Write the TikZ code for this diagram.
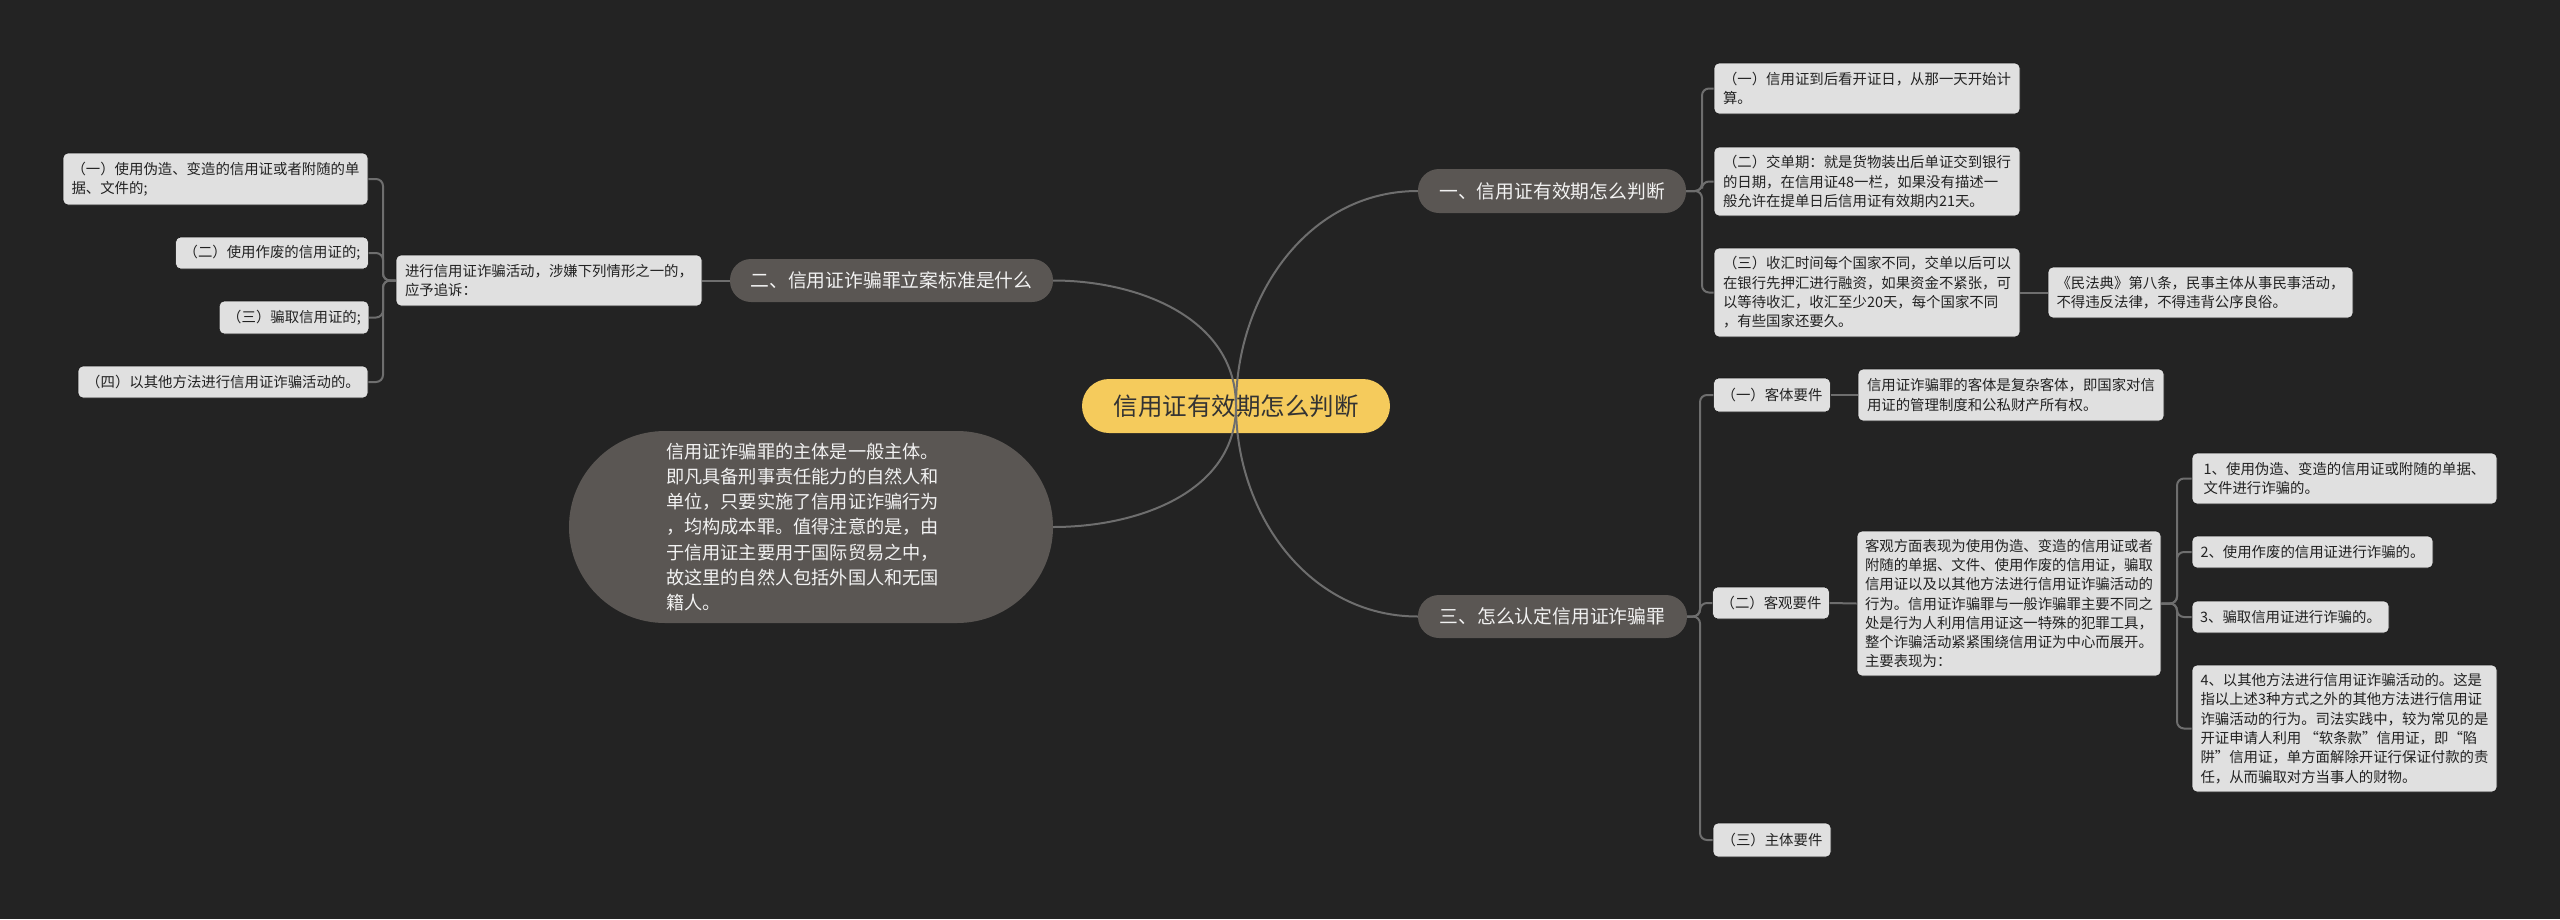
\documentclass[tikz,border=0pt]{standalone}
\usepackage{fontspec}
\setmainfont{Noto Sans CJK SC}
\usetikzlibrary{backgrounds}
\definecolor{bgc}{HTML}{232323}
\definecolor{leafc}{HTML}{E0E0E0}
\definecolor{leafb}{HTML}{151515}
\definecolor{leaft}{HTML}{222222}
\definecolor{topc}{HTML}{5A5653}
\definecolor{mainc}{HTML}{F5CB5C}
\definecolor{maint}{HTML}{333333}
\definecolor{connc}{HTML}{6E6E6E}
\begin{document}
\begin{tikzpicture}[x=1pt,y=-1pt,
  leaf/.style={fill=leafc, draw=leafb, line width=0.6pt, rounded corners=5pt, text=leaft,
    font=\fontsize{14.4}{19.3}\selectfont, align=left, inner xsep=8pt, inner ysep=5pt},
  topic/.style={fill=topc, rounded corners=21pt, text=white!95!black,
    font=\fontsize{18.8}{24}\selectfont, inner sep=0pt},
  conn/.style={draw=connc, line width=2pt},
  bracket/.style={conn, rounded corners=7pt}]
\useasboundingbox (0,0) rectangle (2560,919);
\fill[bgc] (0,0) rectangle (2560,919);

% central
\node[fill=mainc, rounded corners=27pt, text=maint, font=\fontsize{24.5}{30}\selectfont,
  minimum width=308pt, minimum height=54pt, inner sep=0pt] (c) at (1236,406) {信用证有效期怎么判断};

% level 1
\node[topic, minimum width=268pt, minimum height=44pt] (ta) at (1552,191) {一、信用证有效期怎么判断};
\node[topic, minimum width=323pt, minimum height=43pt] (tb) at (891.5,280.5) {二、信用证诈骗罪立案标准是什么};
\node[topic, minimum width=269pt, minimum height=43pt] (tc) at (1552.5,616.5) {三、怎么认定信用证诈骗罪};
\node[fill=topc, rounded corners=96pt, minimum width=484pt, minimum height=192pt, inner sep=0pt] (ov) at (811,527) {};
\node[text=white!95!black, font=\fontsize{18.2}{25.3}\selectfont, align=left, text width=290pt, inner sep=0pt] (ovt) at (811,527) {信用证诈骗罪的主体是一般主体。\\即凡具备刑事责任能力的自然人和\\单位，只要实施了信用证诈骗行为\\，均构成本罪。值得注意的是，由\\于信用证主要用于国际贸易之中，\\故这里的自然人包括外国人和无国\\籍人。};

% left group
\node[leaf, minimum width=306pt, minimum height=51pt] (bx) at (549,280.5) {进行信用证诈骗活动，涉嫌下列情形之一的，\\应予追诉：};
\node[leaf, minimum width=305pt, minimum height=52pt] (a1) at (215.5,179) {（一）使用伪造、变造的信用证或者附随的单\\据、文件的;};
\node[leaf, minimum width=192pt, minimum height=32pt] (a2) at (272,253) {（二）使用作废的信用证的;};
\node[leaf, minimum width=148pt, minimum height=33pt] (a3) at (294,317.5) {（三）骗取信用证的;};
\node[leaf, minimum width=290pt, minimum height=32pt] (a4) at (223,382) {（四）以其他方法进行信用证诈骗活动的。};

% right top group
\node[leaf, minimum width=306pt, minimum height=51pt] (b1) at (1867,88.5) {（一）信用证到后看开证日，从那一天开始计\\算。};
\node[leaf, minimum width=306pt, minimum height=69pt] (b2) at (1867,181.5) {（二）交单期：就是货物装出后单证交到银行\\的日期，在信用证48一栏，如果没有描述一\\般允许在提单日后信用证有效期内21天。};
\node[leaf, minimum width=306pt, minimum height=89pt] (b3) at (1867,292.5) {（三）收汇时间每个国家不同，交单以后可以\\在银行先押汇进行融资，如果资金不紧张，可\\以等待收汇，收汇至少20天，每个国家不同\\，有些国家还要久。};
\node[leaf, minimum width=305pt, minimum height=51pt] (b4) at (2200.5,292.5) {《民法典》第八条，民事主体从事民事活动，\\不得违反法律，不得违背公序良俗。};

% right bottom group
\node[leaf, minimum width=116pt, minimum height=34pt] (c1) at (1772,395) {（一）客体要件};
\node[leaf, minimum width=306pt, minimum height=52pt] (c1d) at (2011,395) {信用证诈骗罪的客体是复杂客体，即国家对信\\用证的管理制度和公私财产所有权。};
\node[leaf, minimum width=116pt, minimum height=32pt] (c2) at (1771,603) {（二）客观要件};
\node[leaf, minimum width=304pt, minimum height=145pt] (c2d) at (2009,603.5) {客观方面表现为使用伪造、变造的信用证或者\\附随的单据、文件、使用作废的信用证，骗取\\信用证以及以其他方法进行信用证诈骗活动的\\行为。信用证诈骗罪与一般诈骗罪主要不同之\\处是行为人利用信用证这一特殊的犯罪工具，\\整个诈骗活动紧紧围绕信用证为中心而展开。\\主要表现为：};
\node[leaf, minimum width=118pt, minimum height=34pt] (c3) at (1772,840) {（三）主体要件};

\node[leaf, minimum width=305pt, minimum height=51pt] (d1) at (2344.5,478.5) {1、使用伪造、变造的信用证或附随的单据、\\文件进行诈骗的。};
\node[leaf, minimum width=241pt, minimum height=32pt] (d2) at (2312.5,552) {2、使用作废的信用证进行诈骗的。};
\node[leaf, minimum width=197pt, minimum height=32pt] (d3) at (2290.5,617) {3、骗取信用证进行诈骗的。};
\node[leaf, minimum width=305pt, minimum height=127pt] (d4) at (2344.5,728.5) {4、以其他方法进行信用证诈骗活动的。这是\\指以上述3种方式之外的其他方法进行信用证\\诈骗活动的行为。司法实践中，较为常见的是\\开证申请人利用 “软条款”信用证，即“陷\\阱”信用证，单方面解除开证行保证付款的责\\任，从而骗取对方当事人的财物。};

% spine coordinates
\coordinate (sl) at (383,280.5);
\coordinate (sa) at (1702,191);
\coordinate (sc) at (1700,616.5);
\coordinate (sd) at (2177,603.5);

% central curves (drawn over the central node, as in the reference)
\draw[conn] (c.center) to[out=90,in=180] (ta.west);
\draw[conn] (c.center) to[out=90,in=0] (tb.east);
\draw[conn] (c.center) to[out=270,in=0] (ov.east);
\draw[conn] (c.center) to[out=270,in=180] (tc.west);

\begin{scope}[on background layer]
\end{scope}

% left group connectors
\draw[conn] (tb.west) -- (bx.east);
\draw[bracket] (bx.west) -- (sl) |- (a1.east);
\draw[bracket] (bx.west) -- (sl) |- (a2.east);
\draw[bracket] (bx.west) -- (sl) |- (a3.east);
\draw[bracket] (bx.west) -- (sl) |- (a4.east);

% right top connectors
\draw[bracket] (ta.east) -- (sa) |- (b1.west);
\draw[bracket] (ta.east) -- (sa) |- (b2.west);
\draw[bracket] (ta.east) -- (sa) |- (b3.west);
\draw[conn] (b3.east) -- (b4.west);

% right bottom connectors
\draw[bracket] (tc.east) -- (sc) |- (c1.west);
\draw[bracket] (tc.east) -- (sc) |- (c2.west);
\draw[bracket] (tc.east) -- (sc) |- (c3.west);
\draw[conn] (c1.east) -- (c1d.west);
\draw[conn] (c2.east) -- (c2d.west);
\draw[bracket] (c2d.east) -- (sd) |- (d1.west);
\draw[bracket] (c2d.east) -- (sd) |- (d2.west);
\draw[bracket] (c2d.east) -- (sd) |- (d3.west);
\draw[bracket] (c2d.east) -- (sd) |- (d4.west);
\end{tikzpicture}
\end{document}
